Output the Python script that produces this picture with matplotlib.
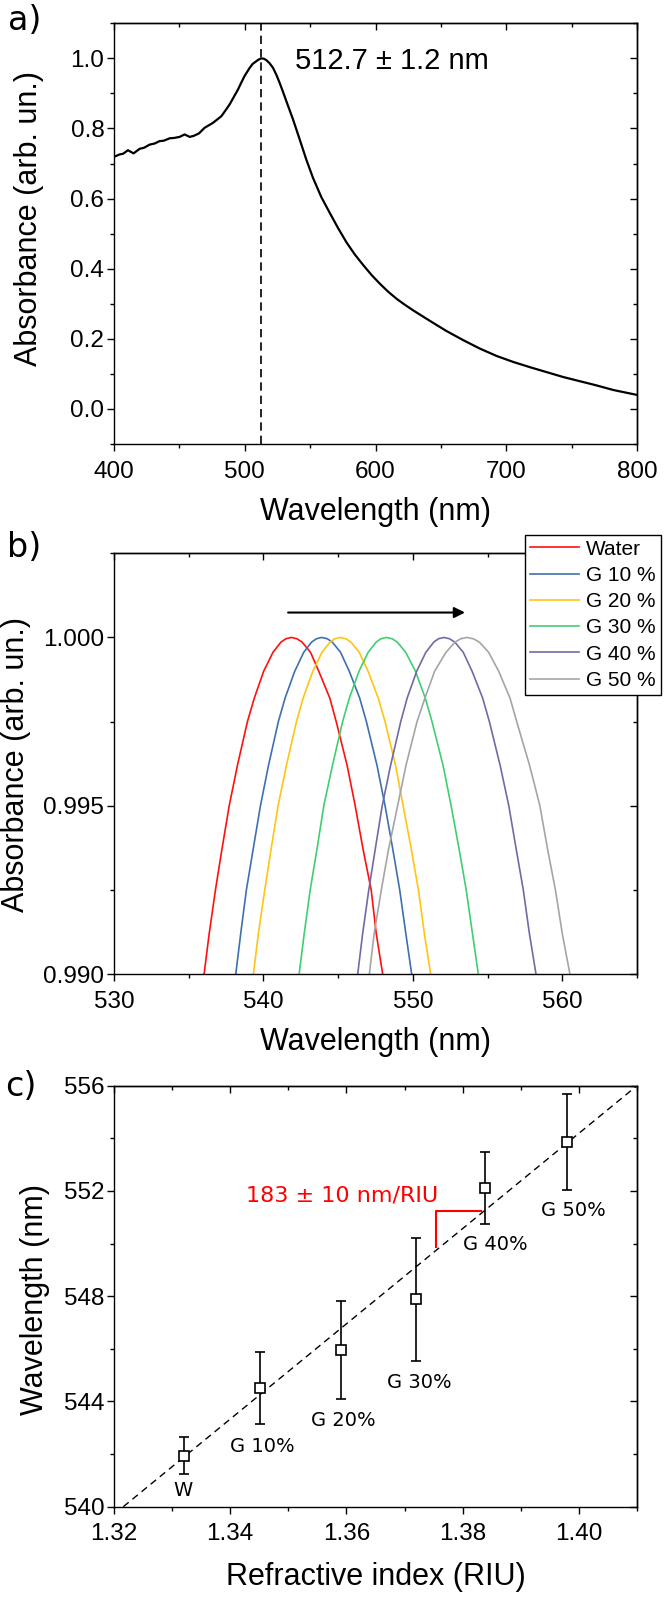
import matplotlib
matplotlib.use('Agg')
import matplotlib.pyplot as plt
from matplotlib.ticker import MultipleLocator, FormatStrFormatter, NullFormatter

plt.rcParams['font.family'] = ['Liberation Sans', 'DejaVu Sans']

# ---------------- Panel a: extinction spectrum ----------------
spec_wl = [400.0, 404.3, 407.0, 410.7, 413.0, 415.0, 419.6, 423.0, 427.3, 431.0,
           434.9, 438.0, 442.6, 446.0, 450.2, 454.0, 457.9, 461.0, 465.0, 469.3,
           475.7, 482.1, 485.0, 488.5, 491.5, 494.8, 497.5, 499.9, 503.8, 506.0,
           508.9, 510.8, 512.7, 514.6, 516.5, 519.0, 521.6, 524.2, 526.7, 529.2,
           531.8, 536.9, 542.0, 547.1, 552.2, 558.6, 565.2, 571.5, 578.0, 584.3,
           590.7, 597.0, 603.4, 609.8, 616.2, 622.5, 628.9, 635.3, 641.7, 654.4,
           667.2, 679.9, 692.7, 705.4, 718.2, 730.9, 743.6, 756.4, 769.2, 781.9,
           800.0]
spec_abs = [0.719, 0.726, 0.728, 0.738, 0.733, 0.729, 0.742, 0.745, 0.754, 0.757,
            0.764, 0.765, 0.772, 0.773, 0.776, 0.783, 0.776, 0.779, 0.786, 0.802,
            0.816, 0.835, 0.850, 0.869, 0.889, 0.911, 0.932, 0.950, 0.973, 0.984,
            0.992, 0.997, 1.000, 0.999, 0.995, 0.986, 0.973, 0.953, 0.930, 0.905,
            0.878, 0.826, 0.769, 0.711, 0.659, 0.604, 0.558, 0.515, 0.474, 0.440,
            0.410, 0.382, 0.357, 0.334, 0.314, 0.297, 0.281, 0.266, 0.251, 0.222,
            0.196, 0.172, 0.151, 0.134, 0.119, 0.105, 0.091, 0.079, 0.067, 0.054,
            0.040]
peak_wl = 512.7
peak_label = '512.7 ± 1.2 nm'

# ---------------- Panel b: normalised peak tops ----------------
series_names = ['Water', 'G 10 %', 'G 20 %', 'G 30 %', 'G 40 %', 'G 50 %']
series_colors = ['#ff1010', '#3f70ad', '#ffc414', '#3fcf72', '#6d6ca6', '#a5a5a5']
top_abs = [0.990, 0.9912, 0.9925, 0.9937, 0.995, 0.9962, 0.9975, 0.9982, 0.999,
           0.99956, 0.99986, 0.99996, 1.000, 0.99996, 0.99986, 0.99956, 0.999,
           0.9982, 0.9975, 0.9962, 0.995, 0.9937, 0.9925, 0.9912, 0.990]
water_wl = [536.03, 536.37, 536.79, 537.22, 537.71, 538.26, 538.93, 539.39, 540.02,
            540.64, 541.17, 541.50, 541.87, 542.25, 542.59, 543.15, 543.70,
            544.44, 544.87, 545.60, 546.14, 546.67, 547.21, 547.55, 547.98]
g10_wl = [538.15, 538.48, 538.86, 539.31, 539.80, 540.34, 541.00, 541.45, 542.10,
          542.70, 543.22, 543.54, 543.90, 544.28, 544.61, 545.16, 545.74,
          546.44, 546.89, 547.60, 548.14, 548.66, 549.12, 549.53, 549.92]
g20_wl = [539.33, 539.66, 540.09, 540.51, 540.98, 541.54, 542.21, 542.66, 543.31,
          543.92, 544.45, 544.77, 545.14, 545.52, 545.86, 546.41, 547.00,
          547.68, 548.14, 548.84, 549.35, 549.90, 550.37, 550.77, 551.19]
g30_wl = [542.39, 542.73, 543.13, 543.58, 544.04, 544.62, 545.30, 545.75, 546.40,
          547.01, 547.54, 547.86, 548.23, 548.62, 548.96, 549.52, 550.17,
          550.83, 551.28, 552.02, 552.56, 553.10, 553.57, 553.99, 554.38]
g40_wl = [546.31, 546.64, 547.05, 547.48, 547.95, 548.51, 549.19, 549.62, 550.26,
          550.87, 551.40, 551.71, 552.08, 552.46, 552.81, 553.37, 553.96,
          554.67, 555.12, 555.84, 556.42, 556.92, 557.39, 557.80, 558.24]
g50_wl = [547.09, 547.41, 547.89, 548.37, 548.98, 549.54, 550.28, 550.81, 551.46,
          552.22, 552.82, 553.20, 553.62, 554.05, 554.45, 555.07, 555.74,
          556.50, 556.95, 557.81, 558.50, 559.02, 559.54, 560.00, 560.51]
series_wl = [water_wl, g10_wl, g20_wl, g30_wl, g40_wl, g50_wl]
arrow_start = (541.65, 1.00074)
arrow_end = (553.49, 1.00074)

# ---------------- Panel c: sensitivity ----------------
ref_index = [1.3321, 1.3451, 1.3590, 1.3719, 1.3839, 1.3979]
peak_pos = [541.94, 544.50, 545.95, 547.88, 552.10, 553.85]
peak_err = [0.70, 1.37, 1.86, 2.34, 1.37, 1.83]
point_labels = ['W', 'G 10%', 'G 20%', 'G 30%', 'G 40%', 'G 50%']
label_x = [1.3319, 1.3456, 1.3594, 1.3725, 1.3856, 1.3991]
label_y = [540.41, 542.09, 543.07, 544.52, 549.75, 551.06]
fit_x = [1.3216, 1.4100]
fit_y = [540.0, 556.0]
tri_x = [1.37549, 1.37549, 1.38314]
tri_y = [549.88, 551.25, 551.25]
slope_label = '183 ± 10 nm/RIU'
slope_pos = (1.3592, 551.59)

# ---------------- figure ----------------
W, H = 664, 1598
fig = plt.figure(figsize=(W / 100, H / 100), dpi=100)


def rect(l, t, r, b):
    return [l / W, 1 - b / H, (r - l) / W, (b - t) / H]


axa = fig.add_axes(rect(114, 23.3, 637, 444))
axb = fig.add_axes(rect(114, 553.3, 637, 974))
axc = fig.add_axes(rect(114, 1085.7, 637, 1506.7))

TICK_FS = 17.5
LABEL_FS = 22


def style(ax, xmaj, xmin, ymaj, ymin, xfmt, yfmt):
    for s in ax.spines.values():
        s.set_linewidth(1.0)
    ax.xaxis.set_major_locator(MultipleLocator(xmaj))
    ax.xaxis.set_minor_locator(MultipleLocator(xmin))
    ax.yaxis.set_major_locator(MultipleLocator(ymaj))
    ax.yaxis.set_minor_locator(MultipleLocator(ymin))
    ax.xaxis.set_major_formatter(FormatStrFormatter(xfmt))
    ax.yaxis.set_major_formatter(FormatStrFormatter(yfmt))
    ax.tick_params(which='both', direction='out', width=1.0, labelsize=TICK_FS,
                   top=False, right=False)
    ax.tick_params(which='major', length=5)
    ax.tick_params(which='minor', length=3)
    ax.tick_params(axis='x', pad=7)
    ax.tick_params(axis='y', pad=2)
    sx = ax.secondary_xaxis('top')
    sx.xaxis.set_major_locator(MultipleLocator(xmaj))
    sx.xaxis.set_minor_locator(MultipleLocator(xmin))
    sx.xaxis.set_major_formatter(NullFormatter())
    sx.tick_params(which='both', direction='in', width=1.0)
    sx.tick_params(which='major', length=5)
    sx.tick_params(which='minor', length=3)
    sx.spines['top'].set_linewidth(1.0)
    sy = ax.secondary_yaxis('right')
    sy.yaxis.set_major_locator(MultipleLocator(ymaj))
    sy.yaxis.set_minor_locator(MultipleLocator(ymin))
    sy.yaxis.set_major_formatter(NullFormatter())
    sy.tick_params(which='both', direction='in', width=1.0)
    sy.tick_params(which='major', length=5)
    sy.tick_params(which='minor', length=3)
    sy.spines['right'].set_linewidth(1.0)


# ---- panel a ----
axa.plot(spec_wl, spec_abs, color='k', lw=1.6)
axa.axvline(peak_wl, color='k', lw=1.2, ls=(0, (5, 3)))
axa.set_xlim(400, 800)
axa.set_ylim(-0.1, 1.1)
style(axa, 100, 50, 0.2, 0.1, '%d', '%.1f')
axa.text(612.6, 0.9686, peak_label, ha='center', va='baseline', fontsize=21)
axa.set_xlabel('Wavelength (nm)', fontsize=LABEL_FS, va='center')
axa.xaxis.set_label_coords(0.5, -0.1616)
axa.set_ylabel('Absorbance (arb. un.)', fontsize=LABEL_FS, va='center', ha='center')
axa.yaxis.set_label_coords(-0.163, 0.537)

# ---- panel b ----
for name, col, wl in zip(series_names, series_colors, series_wl):
    axb.plot(wl, top_abs, color=col, lw=1.2, label=name)
axb.annotate('', xy=arrow_end, xytext=arrow_start,
             arrowprops=dict(arrowstyle='-|>', color='k', lw=1.5,
                             mutation_scale=16, shrinkA=0, shrinkB=0))
axb.set_xlim(530, 565)
axb.set_ylim(0.990, 1.0025)
style(axb, 10, 5, 0.005, 0.0025, '%d', '%.3f')
axb.set_xlabel('Wavelength (nm)', fontsize=LABEL_FS, va='center')
axb.xaxis.set_label_coords(0.5, -0.1616)
axb.set_ylabel('Absorbance (arb. un.)', fontsize=LABEL_FS, va='center', ha='center')
axb.yaxis.set_label_coords(-0.187, 0.497)
leg = axb.legend(loc='upper right', bbox_to_anchor=(660.6 / W, 1 - 535 / H),
                 bbox_transform=fig.transFigure, borderaxespad=0,
                 fontsize=15, handlelength=2.35, handletextpad=0.37,
                 labelspacing=0.35, borderpad=0.22, fancybox=False,
                 framealpha=1, edgecolor='k')
leg.get_frame().set_linewidth(1.0)
leg.set_zorder(10)

# ---- panel c ----
axc.plot(fit_x, fit_y, color='k', lw=1.0, ls=(0, (5, 3.5)), zorder=2)
axc.plot(tri_x, tri_y, color='red', lw=1.5, zorder=2)
axc.errorbar(ref_index, peak_pos, yerr=peak_err, fmt='s', ms=7, mfc='white',
             mec='k', mew=1.2, ecolor='k', elinewidth=1.2, capsize=3.6,
             capthick=1.2, zorder=3)
for t, x, y in zip(point_labels, label_x, label_y):
    axc.text(x, y, t, ha='center', va='baseline', fontsize=14,
             family=['DejaVu Sans'])
axc.text(slope_pos[0], slope_pos[1], slope_label, color='red', ha='center',
         va='baseline', fontsize=16, family=['DejaVu Sans'])
axc.set_xlim(1.32, 1.41)
axc.set_ylim(540, 556)
style(axc, 0.02, 0.01, 4, 2, '%.2f', '%d')
axc.set_xlabel('Refractive index (RIU)', fontsize=LABEL_FS, va='center')
axc.xaxis.set_label_coords(0.5, -0.167)
axc.set_ylabel('Wavelength (nm)', fontsize=LABEL_FS, va='center', ha='center')
axc.yaxis.set_label_coords(-0.151, 0.493)

# panel letters
for lab, px, py in [('a)', 25, 20), ('b)', 24, 548), ('c)', 21, 1087)]:
    fig.text(px / W, 1 - py / H, lab, ha='center', va='center', fontsize=24,
             family=['DejaVu Sans'])

fig.savefig('out.png', dpi=100)
